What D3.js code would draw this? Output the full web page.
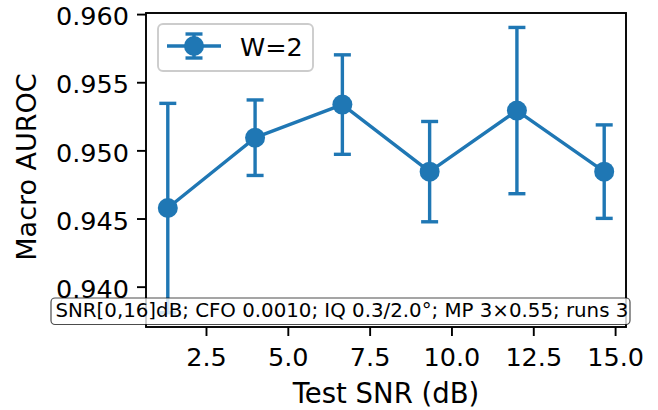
<!DOCTYPE html>
<html>
<head>
<meta charset="utf-8">
<script src="https://cdn.jsdelivr.net/npm/d3@7"></script>
<style>
  html, body { margin: 0; padding: 0; background: #fff; }
  svg { display: block; font-family: "DejaVu Sans", sans-serif; }
</style>
</head>
<body>
<svg id="chart" width="658" height="410"></svg>
<script>
// ---- data ----
const snrCenters = [1.333, 4.0, 6.667, 9.333, 12.0, 14.667];
const aurocMean  = [0.94577, 0.95093, 0.95336, 0.94844, 0.95292, 0.94844];
const aurocStd   = [0.00768, 0.00277, 0.00365, 0.00368, 0.00610, 0.00343];
const xTicks = [2.5, 5.0, 7.5, 10.0, 12.5, 15.0];
const yTicks = [0.940, 0.945, 0.950, 0.955, 0.960];
const seriesName = "W=2";
const xLabel = "Test SNR (dB)";
const yLabel = "Macro AUROC";
const noteText = "SNR[0,16]dB; CFO 0.0010; IQ 0.3/2.0°; MP 3×0.55; runs 3";

(function () {
// ---- layout ----
const pL = 146, pR = 626, pT = 13, pB = 327;
const color = "#1f77b4";
const tickFont = 25.5;

const svg = d3.select("#chart");

const x = d3.scaleLinear().domain([0.667, 15.333]).range([pL, pR]);
const y = d3.scaleLinear().domain([0.93704, 0.96008]).range([pB, pT]);

// axes
const xAxis = d3.axisBottom(x).tickValues(xTicks).tickFormat(d3.format(".1f"))
  .tickSize(9).tickPadding(12);
const gx = svg.append("g").attr("transform", `translate(0,${pB})`).call(xAxis);
gx.select(".domain").remove();
gx.selectAll(".tick line").attr("stroke", "#000").attr("stroke-width", 1.9);
gx.selectAll(".tick text").attr("font-size", tickFont).attr("fill", "#000")
  .attr("font-family", "DejaVu Sans");

const yAxis = d3.axisLeft(y).tickValues(yTicks).tickFormat(d3.format(".3f"))
  .tickSize(9).tickPadding(8);
const gy = svg.append("g").attr("transform", `translate(${pL},0)`).call(yAxis);
gy.select(".domain").remove();
gy.selectAll(".tick line").attr("stroke", "#000").attr("stroke-width", 1.9);
gy.selectAll(".tick text").attr("font-size", tickFont).attr("fill", "#000")
  .attr("dy", "0.42em").attr("font-family", "DejaVu Sans");

// data: error bars
const gErr = svg.append("g");
const cap = 8.5;
snrCenters.forEach((s, i) => {
  const xs = x(s), y1 = y(aurocMean[i] - aurocStd[i]), y2 = y(aurocMean[i] + aurocStd[i]);
  gErr.append("line").attr("x1", xs).attr("x2", xs).attr("y1", y1).attr("y2", y2)
    .attr("stroke", color).attr("stroke-width", 3.4);
  [y1, y2].forEach(yy => gErr.append("line").attr("x1", xs - cap).attr("x2", xs + cap)
    .attr("y1", yy).attr("y2", yy).attr("stroke", color).attr("stroke-width", 3.4));
});

// line
const pts = snrCenters.map((s, i) => [s, aurocMean[i]]);
svg.append("path").datum(pts)
  .attr("d", d3.line().x(d => x(d[0])).y(d => y(d[1])))
  .attr("fill", "none").attr("stroke", color).attr("stroke-width", 3.4)
  .attr("stroke-linejoin", "round");
svg.append("g").selectAll("circle").data(pts).join("circle")
  .attr("cx", d => x(d[0])).attr("cy", d => y(d[1])).attr("r", 10)
  .attr("fill", color);

// frame
svg.append("rect").attr("x", pL).attr("y", pT)
  .attr("width", pR - pL).attr("height", pB - pT)
  .attr("fill", "none").attr("stroke", "#000").attr("stroke-width", 1.9);

// axis labels
svg.append("text").attr("x", (pL + pR) / 2).attr("y", 403)
  .attr("text-anchor", "middle").attr("font-size", 27.5).text(xLabel);
svg.append("text").attr("transform", `translate(36,167) rotate(-90)`)
  .attr("text-anchor", "middle").attr("font-size", 27).text(yLabel);

// legend
const lg = svg.append("g");
lg.append("rect").attr("x", 158).attr("y", 24).attr("width", 155).attr("height", 47)
  .attr("rx", 5).attr("fill", "#fff").attr("fill-opacity", 0.8)
  .attr("stroke", "#cccccc").attr("stroke-width", 1.9);
const lx = 194, ly = 46;
lg.append("line").attr("x1", 167).attr("x2", 221).attr("y1", ly).attr("y2", ly)
  .attr("stroke", color).attr("stroke-width", 3.4);
lg.append("line").attr("x1", lx).attr("x2", lx).attr("y1", 34).attr("y2", 58)
  .attr("stroke", color).attr("stroke-width", 3.4);
[34, 58].forEach(yy => lg.append("line").attr("x1", lx - cap).attr("x2", lx + cap)
  .attr("y1", yy).attr("y2", yy).attr("stroke", color).attr("stroke-width", 3.4));
lg.append("circle").attr("cx", lx).attr("cy", ly).attr("r", 10).attr("fill", color);
lg.append("text").attr("x", 240).attr("y", 55.5).attr("font-size", tickFont).text(seriesName);

// annotation box
const ann = svg.append("g");
ann.append("rect").attr("x", 51).attr("y", 298).attr("width", 579).attr("height", 26.5)
  .attr("rx", 4).attr("fill", "#fff").attr("fill-opacity", 0.8)
  .attr("stroke", "#000").attr("stroke-opacity", 0.7).attr("stroke-width", 1.2);
ann.append("text").attr("x", 55.5).attr("y", 317).attr("font-size", 19.8).text(noteText);
})();
</script>
</body>
</html>
